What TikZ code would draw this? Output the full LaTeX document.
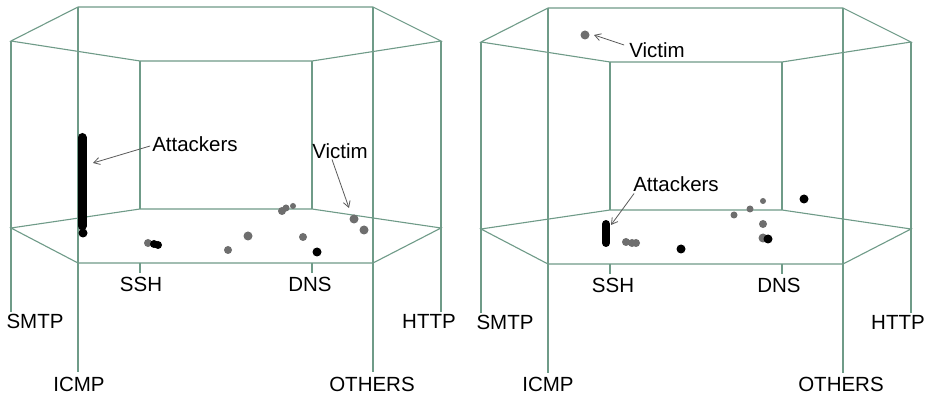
\documentclass[tikz,border=0pt]{standalone}
\usepackage{fontspec}
\setmainfont{Liberation Sans}
\usetikzlibrary{arrows.meta}
\definecolor{frame}{HTML}{6F9B88}
\definecolor{dotgray}{HTML}{6E6E6E}
\definecolor{arrowgray}{HTML}{5A5A5A}
\tikzset{
  box/.style={draw=frame, line width=1.1pt},
  lbl/.style={inner sep=0pt, text height=14.6pt, text depth=0pt, font=\fontsize{20.5}{24}\selectfont},
  arr/.style={draw=arrowgray, line width=0.8pt, -{Straight Barb[length=6pt,width=7pt]}},
  gdot/.style={fill=dotgray},
  bdot/.style={fill=black},
}
\newcommand{\hexprism}{%
  \draw[box] (11,41) -- (78,7) -- (373,7) -- (441,41) -- (312,61) -- (140,61) -- cycle;
  \draw[box] (11,228) -- (140,209) -- (312,209) -- (441,228) -- (373,263) -- (78,263) -- cycle;
  \draw[box] (11,41) -- (11,312);
  \draw[box] (441,41) -- (441,312);
  \draw[box] (78,7) -- (78,372);
  \draw[box] (373,7) -- (373,372);
  \draw[box] (140,61) -- (140,209);
  \draw[box] (312,61) -- (312,209);
  \draw[box] (140,263) -- (140,273);
  \draw[box] (312,263) -- (312,273);
}
\begin{document}
\begin{tikzpicture}[x=1pt,y=-1pt]
\useasboundingbox[fill=white] (0,0) rectangle (932,395);
% ---------- left panel ----------
\begin{scope}
  \hexprism
  \node[lbl] (smtpL)   at (35,321)  {SMTP};
  \node[lbl] (httpL)   at (429,321) {HTTP};
  \node[lbl] (icmpL)   at (79,384)  {ICMP};
  \node[lbl] (othersL) at (372,384) {OTHERS};
  \node[lbl] (sshL)    at (141,284) {SSH};
  \node[lbl] (dnsL)    at (310,284) {DNS};
  % attackers bar
  \draw[line width=9pt, line cap=round] (82,137.5) -- (82,226);
  \fill[bdot] (83,233) circle (4.5);
  % dots
  \fill[gdot] (148,243) circle (4);
  \fill[bdot] (154,244) circle (4);
  \fill[bdot] (158,245) circle (4);
  \fill[gdot] (228,250) circle (4);
  \fill[gdot] (248,236) circle (4.5);
  \fill[gdot] (282,211) circle (4);
  \fill[gdot] (286,208) circle (3.5);
  \fill[gdot] (293,206) circle (3);
  \fill[gdot] (303,237) circle (4);
  \fill[bdot] (317,252) circle (4.5);
  \fill[gdot] (354,219) circle (4.5);
  \fill[gdot] (364,230) circle (4.5);
  % labels and arrows
  \node[lbl] (attL) at (195,144) {Attackers};
  \coordinate (attTipL) at (93,163);
  \draw[arr] ([xshift=-2pt,yshift=-2pt]attL.west) -- (attTipL);
  \node[lbl] (vicL) at (340,151) {Victim};
  \coordinate (vicTipL) at (349,208);
  \draw[arr] ([xshift=-8pt,yshift=-1pt]vicL.south) -- (vicTipL);
\end{scope}
% ---------- right panel ----------
\begin{scope}[shift={(470,1)}]
  \hexprism
\end{scope}
\node[lbl] (smtpR)   at (505,322)  {SMTP};
\node[lbl] (httpR)   at (898,322) {HTTP};
\node[lbl] (icmpR)   at (548,384)  {ICMP};
\node[lbl] (othersR) at (841,384) {OTHERS};
\node[lbl] (sshR)    at (613,285) {SSH};
\node[lbl] (dnsR)    at (779,285) {DNS};
% attackers bar
\draw[line width=8pt, line cap=round] (606,224) -- (606,243);
% dots
\fill[gdot] (585,35) circle (4.5);
\fill[gdot] (626,242) circle (4);
\fill[gdot] (632,243) circle (4);
\fill[gdot] (636,243) circle (4);
\fill[bdot] (681,249) circle (4.5);
\fill[gdot] (734,215) circle (3.5);
\fill[gdot] (750,209) circle (3.5);
\fill[gdot] (763,201) circle (3);
\fill[gdot] (763,224) circle (4);
\fill[gdot] (763,238) circle (4.5);
\fill[bdot] (768,239) circle (4.5);
\fill[bdot] (804,199) circle (4.5);
% labels and arrows
\node[lbl] (vicR) at (657,50) {Victim};
\coordinate (vicTipR) at (594,35);
\draw[arr] ([xshift=-5pt,yshift=5pt]vicR.west) -- (vicTipR);
\node[lbl] (attR) at (676,184) {Attackers};
\coordinate (attTipR) at (611,225);
\draw[arr] ([xshift=1pt,yshift=-2pt]attR.south west) -- (attTipR);
\end{tikzpicture}
\end{document}
